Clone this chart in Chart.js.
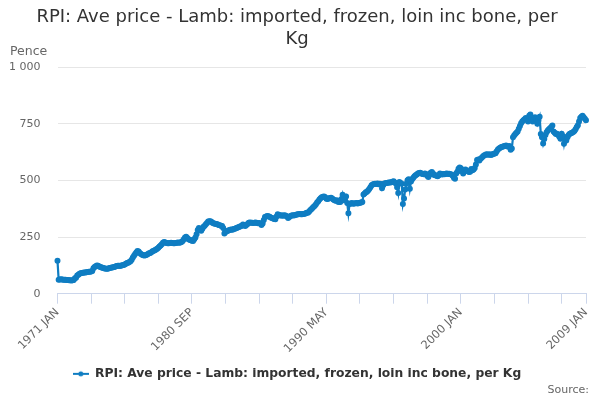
<!DOCTYPE html>
<html>
<head>
<meta charset="utf-8">
<title>RPI: Ave price - Lamb: imported, frozen, loin inc bone, per Kg</title>
<script src="https://cdn.jsdelivr.net/npm/chart.js@4.4.1/dist/chart.umd.min.js"></script>
<style>
  html, body { margin: 0; padding: 0; background: #fff; }
  #wrap { width: 600px; height: 400px; }
</style>
</head>
<body>
<div id="wrap"><canvas id="lambChart" width="600" height="400"></canvas></div>
<script>
// monthly series, 1971 JAN .. 2009 JAN (pence per kg)
const years = [1971, 1972, 1973, 1974, 1975, 1976, 1977, 1978, 1979, 1980,
  1981, 1982, 1983, 1984, 1985, 1986, 1987, 1988, 1989, 1990,
  1991, 1992, 1993, 1994, 1995, 1996, 1997, 1998, 1999, 2000,
  2001, 2002, 2003, 2004, 2005, 2006, 2007, 2008, 2009];
const months = ["JAN", "FEB", "MAR", "APR", "MAY", "JUN", "JUL", "AUG", "SEP", "OCT", "NOV", "DEC"];

const pence = [
  145, 61, 63, 64, 63, 62, 62, 61, 60, 60, 59, 59,          // 1971
  58, 59, 60, 68, 70, 80, 84, 88, 90, 91, 92, 93,           // 1972
  94, 95, 96, 97, 97, 98, 100, 112, 118, 121, 124, 123,     // 1973
  120, 118, 116, 114, 112, 111, 110, 110, 111, 113, 115, 116, // 1974
  117, 118, 120, 122, 123, 123, 122, 124, 126, 127, 129, 132, // 1975
  135, 137, 140, 143, 150, 160, 167, 175, 182, 188, 186, 180, // 1976
  175, 172, 170, 169, 170, 172, 175, 178, 180, 183, 187, 190, // 1977
  192, 195, 198, 203, 208, 213, 218, 225, 228, 226, 224, 222, // 1978
  223, 224, 225, 224, 222, 223, 224, 225, 226, 225, 226, 228, // 1979
  233, 240, 248, 251, 246, 240, 238, 236, 234, 233, 240, 248, // 1980
  262, 281, 290, 284, 278, 286, 295, 300, 306, 312, 318, 320, // 1981
  320, 316, 312, 310, 309, 308, 306, 303, 302, 300, 299, 290, // 1982
  265, 272, 276, 278, 280, 282, 283, 282, 285, 287, 289, 291, // 1983
  293, 295, 297, 300, 305, 302, 299, 303, 308, 313, 314, 313, // 1984
  313, 312, 313, 314, 312, 311, 312, 310, 303, 310, 325, 338, // 1985
  341, 343, 342, 339, 336, 334, 332, 330, 328, 340, 350, 347, // 1986
  345, 346, 344, 345, 346, 344, 340, 334, 338, 343, 345, 346, // 1987
  345, 347, 348, 350, 351, 352, 351, 350, 352, 353, 354, 357, // 1988
  357, 362, 368, 373, 378, 384, 388, 395, 402, 408, 415, 421, // 1989
  426, 428, 429, 425, 419, 418, 420, 422, 423, 420, 416, 412, // 1990
  410, 412, 406, 404, 405, 418, 437, 412, 420, 429, 400, 355, // 1991
  396, 398, 400, 397, 398, 399, 400, 398, 400, 401, 402, 404, // 1992
  438, 442, 447, 450, 455, 462, 470, 478, 482, 484, 485, 484, // 1993
  486, 483, 485, 484, 465, 478, 486, 487, 488, 489, 490, 491, // 1994
  492, 494, 496, 490, 486, 470, 444, 493, 488, 485, 396, 420, // 1995
  460, 485, 500, 505, 463, 495, 505, 512, 518, 522, 526, 530, // 1996
  532, 533, 530, 528, 527, 530, 528, 520, 515, 525, 533, 537, // 1997
  530, 524, 522, 520, 518, 522, 530, 528, 526, 528, 527, 529, // 1998
  530, 528, 529, 527, 526, 520, 512, 507, 530, 538, 551, 557, // 1999
  553, 540, 530, 545, 548, 542, 540, 537, 538, 550, 545, 548, // 2000
  555, 570, 590, 592, 588, 595, 600, 605, 610, 612, 615, 614, // 2001
  613, 615, 612, 614, 616, 618, 620, 628, 636, 640, 644, 647, // 2002
  648, 650, 652, 654, 650, 648, 652, 635, 640, 690, 698, 705, // 2003
  710, 716, 728, 740, 752, 760, 765, 770, 775, 768, 760, 785, // 2004
  790, 775, 760, 765, 778, 770, 750, 765, 780, 705, 690, 662, // 2005
  682, 700, 712, 720, 725, 730, 735, 742, 715, 710, 705, 706, // 2006
  700, 692, 684, 706, 695, 661, 690, 676, 690, 700, 706, 708, // 2007
  710, 713, 718, 725, 735, 743, 760, 775, 780, 785, 778, 772, // 2008
  765                                                         // 2009 JAN
];

const yTicks = [0, 250, 500, 750, 1000];
const seriesName = "RPI: Ave price - Lamb: imported, frozen, loin inc bone, per Kg";

// build category labels "1971 JAN" ...
const labels = [];
years.forEach((y) => {
  months.forEach((m) => {
    if (labels.length < pence.length) labels.push(y + " " + m);
  });
});

const lastIdx = labels.length - 1;
const blue = "#0f7dc2";
const fontFamily = "'DejaVu Sans', 'Liberation Sans', sans-serif";

// legend marker: short line with a dot
const marker = document.createElement("canvas");
marker.width = 16;
marker.height = 8;
const mctx = marker.getContext("2d");
mctx.strokeStyle = blue;
mctx.lineWidth = 2;
mctx.beginPath();
mctx.moveTo(0, 4);
mctx.lineTo(16, 4);
mctx.stroke();
mctx.fillStyle = blue;
mctx.beginPath();
mctx.arc(8, 4, 2.5, 0, Math.PI * 2);
mctx.fill();

const fmt = (v) => String(v).replace(/\B(?=(\d{3})+(?!\d))/g, " ");

// "Pence" unit label and "Source:" note
const extraText = {
  id: "extraText",
  afterDraw(chart) {
    const c = chart.ctx;
    c.save();
    c.fillStyle = "#666666";
    c.textBaseline = "middle";
    c.textAlign = "left";
    c.font = "12.5px " + fontFamily;
    c.fillText("Pence", 10, 52);
    c.font = "11px " + fontFamily;
    c.textAlign = "right";
    c.fillText("Source:", 589, 390);
    c.restore();
  }
};

const ctx = document.getElementById("lambChart");
new Chart(ctx, {
  type: "line",
  data: {
    labels: labels,
    datasets: [
      {
        label: seriesName,
        data: pence,
        borderColor: blue,
        backgroundColor: blue,
        borderWidth: 2.2,
        pointRadius: 1.9,
        pointHoverRadius: 3,
        tension: 0,
      },
    ],
  },
  options: {
    responsive: false,
    animation: false,
    layout: { padding: { left: 8, right: 14, top: 0, bottom: 10 } },
    plugins: {
      title: {
        display: true,
        text: ["RPI: Ave price - Lamb: imported, frozen, loin inc bone, per", "Kg"],
        color: "#333333",
        font: { family: fontFamily, size: 18, weight: "normal", lineHeight: 1.2 },
        padding: { top: 7, bottom: 16.8 },
      },
      legend: {
        position: "bottom",
        labels: {
          usePointStyle: true,
          pointStyle: marker,
          pointStyleWidth: 16,
          boxHeight: 8,
          padding: 10,
          color: "#333333",
          font: { family: fontFamily, size: 12.3, weight: "bold" },
        },
      },
      tooltip: { enabled: false },
    },
    scales: {
      x: {
        grid: {
          drawOnChartArea: false,
          drawTicks: true,
          tickLength: 10,
          color: (c) => (c.index % 29 === 0 || c.index === lastIdx ? "#ccd6eb" : "rgba(0,0,0,0)"),
        },
        border: { display: true, color: "#ccd6eb" },
        ticks: {
          autoSkip: false,
          minRotation: 45,
          maxRotation: 45,
          color: "#666666",
          font: { family: fontFamily, size: 11.5 },
          padding: 2,
          callback: function (val, idx) {
            return idx % 116 === 0 || idx === lastIdx ? this.getLabelForValue(val) : "";
          },
        },
        afterFit: (s) => { s.height = 64; },
      },
      y: {
        min: 0,
        max: 1000,
        afterBuildTicks: (s) => { s.ticks = yTicks.map((v) => ({ value: v })); },
        grid: { color: "#e6e6e6", drawTicks: false },
        border: { display: false },
        ticks: {
          color: "#666666",
          font: { family: fontFamily, size: 11 },
          padding: 17,
          callback: (v) => fmt(v),
        },
        afterFit: (s) => { s.width = 49.5; },
      },
    },
  },
  plugins: [extraText],
});
</script>
</body>
</html>
